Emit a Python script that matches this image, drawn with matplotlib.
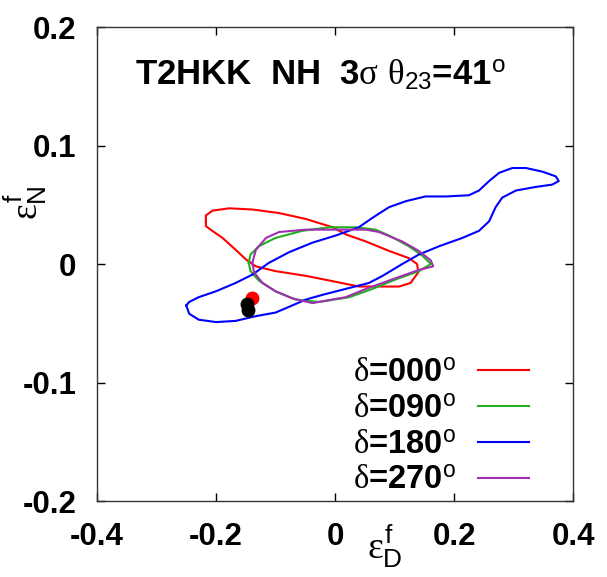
import numpy as np
import matplotlib
matplotlib.use('Agg')
import matplotlib.pyplot as plt

plt.rcParams['font.family'] = 'Liberation Sans'
plt.rcParams['mathtext.fontset'] = 'custom'
plt.rcParams['mathtext.it'] = 'Liberation Serif'
plt.rcParams['mathtext.rm'] = 'Liberation Sans'
plt.rcParams['mathtext.sf'] = 'Liberation Sans'

# contour traces (eps_D, eps_N)
red_x = [-0.217, -0.217, -0.209, -0.189, -0.167, -0.150, -0.133, -0.100, -0.049, 0.001,
         0.040, 0.074, 0.108, 0.127, 0.140, 0.138, 0.124, 0.091, 0.052, 0.018,
         -0.004, -0.049, -0.094, -0.139, -0.178, -0.206, -0.217]
red_y = [0.036, 0.032, 0.029, 0.022, 0.012, 0.004, -0.002, -0.006, -0.010, -0.015,
         -0.019, -0.019, -0.019, -0.016, -0.007, 0.000, 0.005, 0.011, 0.019, 0.025,
         0.031, 0.038, 0.043, 0.046, 0.047, 0.045, 0.041]

green_x = [-0.145, -0.142, -0.128, -0.100, -0.055, -0.010, 0.035, 0.068, 0.091, 0.124,
           0.147, 0.161, 0.141, 0.102, 0.063, 0.024, -0.027, -0.066, -0.100, -0.128, -0.142]
green_y = [0.001, 0.008, 0.015, 0.022, 0.028, 0.031, 0.031, 0.029, 0.024, 0.015,
           0.007, 0.000, -0.006, -0.013, -0.021, -0.028, -0.032, -0.030, -0.023, -0.014, -0.006]

blue_x = [-0.250, -0.245, -0.229, -0.200, -0.167, -0.133, -0.100, -0.072, -0.049, -0.021,
          0.018, 0.057, 0.080, 0.113, 0.141, 0.175, 0.214, 0.242, 0.259, 0.270,
          0.281, 0.304, 0.337, 0.365, 0.376, 0.371, 0.348, 0.321, 0.298, 0.276,
          0.259, 0.242, 0.225, 0.186, 0.152, 0.119, 0.091, 0.063, 0.040, 0.001,
          -0.038, -0.077, -0.111, -0.139, -0.167, -0.200, -0.229, -0.245]
blue_y = [-0.035, -0.042, -0.047, -0.049, -0.048, -0.044, -0.041, -0.035, -0.030, -0.026,
          -0.021, -0.016, -0.010, 0.000, 0.008, 0.015, 0.022, 0.028, 0.036, 0.048,
          0.056, 0.062, 0.065, 0.067, 0.070, 0.074, 0.078, 0.081, 0.081, 0.077,
          0.070, 0.062, 0.058, 0.057, 0.057, 0.053, 0.048, 0.039, 0.031, 0.024,
          0.018, 0.010, 0.001, -0.009, -0.016, -0.023, -0.028, -0.032]

purple_x = [-0.139, -0.133, -0.116, -0.094, -0.049, 0.001, 0.052, 0.074, 0.113, 0.141,
            0.161, 0.165, 0.141, 0.096, 0.052, 0.018, -0.038, -0.072, -0.100, -0.122, -0.136]
purple_y = [0.001, 0.012, 0.022, 0.027, 0.029, 0.029, 0.029, 0.027, 0.019, 0.011,
            0.003, -0.002, -0.005, -0.013, -0.021, -0.028, -0.033, -0.029, -0.023, -0.016, -0.007]

# best-fit / true points
red_pt = ([-0.140], [-0.029])
black_pt = ([-0.148, -0.147], [-0.034, -0.039])

labels = [r'$\delta$=000$^{\mathsf{o}}$', r'$\delta$=090$^{\mathsf{o}}$',
          r'$\delta$=180$^{\mathsf{o}}$', r'$\delta$=270$^{\mathsf{o}}$']
colors = ['#ff0000', '#20b020', '#0000ff', '#a030b0']
curves = [(red_x, red_y), (green_x, green_y), (blue_x, blue_y), (purple_x, purple_y)]

xticks = [-0.4, -0.2, 0.0, 0.2, 0.4]
xticklabels = ['-0.4', '-0.2', '0', '0.2', '0.4']
yticks = [-0.2, -0.1, 0.0, 0.1, 0.2]
yticklabels = ['-0.2', '-0.1', '0', '0.1', '0.2']

fig = plt.figure(figsize=(6.07, 5.77), dpi=100)
ax = fig.add_axes([0.1598, 0.1317, 0.7842, 0.8215])

for (cx, cy), c, lab in zip(curves, colors, labels):
    ax.plot(list(cx) + [cx[0]], list(cy) + [cy[0]], color=c, lw=1.5, label=lab)

ax.plot(*red_pt, 'o', color='red', ms=9, zorder=5)
ax.plot(*black_pt, 'o', color='black', ms=9, zorder=6)

ax.set_xlim(-0.4, 0.4)
ax.set_ylim(-0.2, 0.2)
ax.set_xticks(xticks)
ax.set_xticklabels(xticklabels)
ax.set_yticks(yticks)
ax.set_yticklabels(yticklabels)
ax.tick_params(direction='in', length=6, width=1, top=True, right=True,
               labelsize=22.5, pad=15)
for lab in ax.get_xticklabels() + ax.get_yticklabels():
    lab.set_fontweight('bold')
for s in ax.spines.values():
    s.set_linewidth(1.0)
    s.set_color('#333333')

ax.set_xlabel(r'$\varepsilon^{\mathsf{f}}_{\mathsf{D}}$', fontsize=27)
ax.xaxis.set_label_coords(0.605, -0.045)
ax.set_ylabel(r'$\varepsilon^{\mathsf{f}}_{\mathsf{N}}$', fontsize=27)
ax.yaxis.set_label_coords(-0.10, 0.63)

ax.text(0.08, 0.878, r'T2HKK  NH  3$\sigma$ $\theta_{\mathsf{23}}$=41$^{\mathsf{o}}$',
        transform=ax.transAxes, fontsize=25, fontweight='bold', va='baseline')

ax.legend(loc='lower right', bbox_to_anchor=(0.9076, 0.01), frameon=False,
          markerfirst=False, prop={'weight': 'bold', 'size': 23.5},
          handlelength=1.55, handletextpad=0.7, labelspacing=0.15,
          borderaxespad=0, borderpad=0)

fig.savefig('out.png', dpi=100)
